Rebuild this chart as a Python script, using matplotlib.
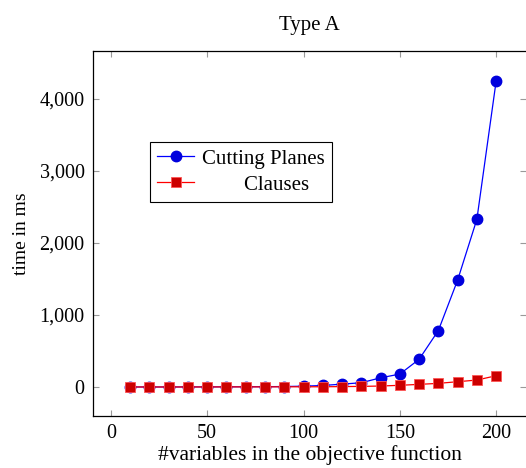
import numpy as np
import matplotlib
matplotlib.use('Agg')
import matplotlib.pyplot as plt
import matplotlib.ticker as ticker

plt.rcParams['font.family'] = ['Liberation Serif', 'DejaVu Serif']
plt.rcParams['font.size'] = 14.5

# data
nvars = [10, 20, 30, 40, 50, 60, 70, 80, 90, 100,
         110, 120, 130, 140, 150, 160, 170, 180, 190, 200]
cutting = [1, 1, 1, 2, 2, 3, 4, 5, 7, 12,
           22, 40, 60, 128, 180, 385, 785, 1485, 2330, 4250]
clauses = [1, 1, 1, 1, 1, 2, 2, 2, 3, 3,
           4, 6, 9, 14, 24, 37, 51, 74, 97, 157]

fig = plt.figure(figsize=(5.26, 4.68), dpi=100)
ax = fig.add_axes([0.1768, 0.111, 0.8232, 0.780])

ax.plot(nvars, cutting, color='#0000ff', lw=0.9, marker='o', ms=7.5,
        mfc='#0000dd', mec='#0000dd', label='Cutting Planes')
ax.plot(nvars, clauses, color='#ff0000', lw=0.9, marker='s', ms=7.5,
        mfc='#cc0000', mec='#ff5555', mew=0.6, label='        Clauses')

ax.set_xlim(-9.3, 215.5)
ax.set_ylim(-403, 4667)
ax.xaxis.set_major_locator(ticker.MultipleLocator(50))
ax.yaxis.set_major_locator(ticker.MultipleLocator(1000))
ax.yaxis.set_major_formatter(ticker.FuncFormatter(lambda v, p: '{:,.0f}'.format(v)))
ax.tick_params(direction='in', length=4, color='#999999', width=0.8,
               top=True, right=True, pad=6, labelsize=14.5)
ax.spines['right'].set_visible(False)
for s in ['left', 'bottom', 'top']:
    ax.spines[s].set_linewidth(0.9)

ax.set_title('Type A', pad=15, fontsize=15)
ax.set_xlabel('#variables in the objective function', labelpad=1.5, fontsize=15.5)
ax.set_ylabel('time in ms', labelpad=7, fontsize=14)

leg = ax.legend(loc='upper left', bbox_to_anchor=(0.132, 0.751), fancybox=False,
                edgecolor='black', framealpha=1, borderpad=0.35, handlelength=1.75,
                labelspacing=0.3, handletextpad=0.4, borderaxespad=0, fontsize=15)
leg.get_frame().set_linewidth(0.8)

fig.savefig('out.png', dpi=100)
